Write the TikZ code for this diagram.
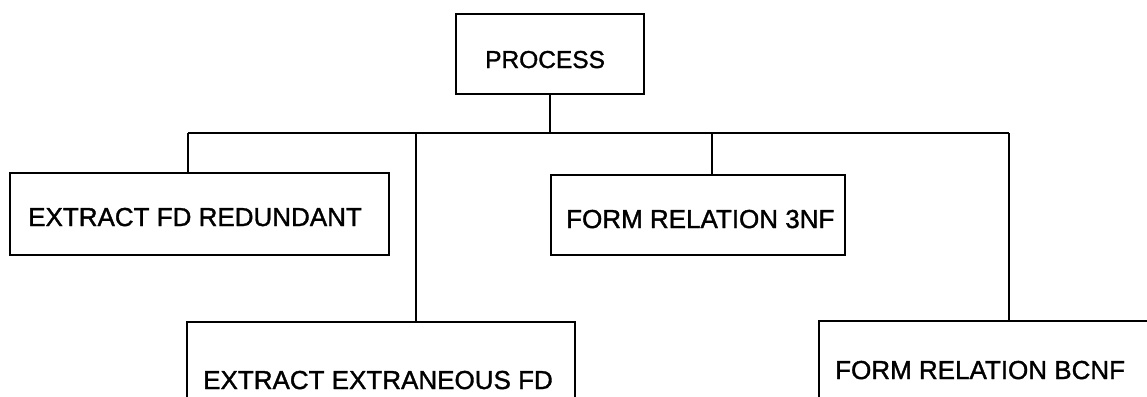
\documentclass[tikz,border=0pt]{standalone}
\usepackage{fontspec}
\setmainfont{Liberation Sans}
\newfontfamily\boxfont[FakeBold=1.3]{Liberation Sans}
\begin{document}
\begin{tikzpicture}[x=1pt,y=-1pt,
  box/.style={draw, line width=2.4pt, rectangle, inner sep=0pt, outer sep=0pt, anchor=north west},
  lbl/.style={font=\boxfont\fontsize{26}{30}\selectfont, anchor=base west, inner sep=0pt},
  wire/.style={line width=2.4pt}]
\useasboundingbox (0,0) rectangle (1147,396);
\clip (0,0) rectangle (1147,396);
% boxes
\node[box, minimum width=188pt, minimum height=80pt] (process) at (456,14) {};
\node[lbl, font=\boxfont\fontsize{24.5}{28}\selectfont] (tprocess) at (485,68) {PROCESS};
\node[box, minimum width=379pt, minimum height=82pt] (red) at (10,173) {};
\node[lbl] (tred) at (28,226) {EXTRACT FD REDUNDANT};
\node[box, minimum width=388pt, minimum height=110pt] (ext) at (187,322) {};
\node[lbl] (text) at (203,389) {EXTRACT EXTRANEOUS FD};
\node[box, minimum width=294pt, minimum height=80pt] (nf3) at (551,175) {};
\node[lbl] (tnf3) at (566,228) {FORM RELATION 3NF};
\node[box, minimum width=360pt, minimum height=110pt] (bcnf) at (819,321) {};
\node[lbl] (tbcnf) at (835,379) {FORM RELATION BCNF};
% connectors
\coordinate (bus) at (550,133);
\coordinate (cr) at (188,133);
\coordinate (ce) at (416,133);
\coordinate (c3) at (712,133);
\coordinate (cb) at (1009,133);
\draw[wire] (process.south) -- (process.south |- bus);
\draw[wire] (cr) -- (cb);
\draw[wire] (cr) -- (cr |- red.north);
\draw[wire] (ce) -- (ce |- ext.north);
\draw[wire] (c3) -- (c3 |- nf3.north);
\draw[wire] (cb) -- (cb |- bcnf.north);
\end{tikzpicture}
\end{document}
